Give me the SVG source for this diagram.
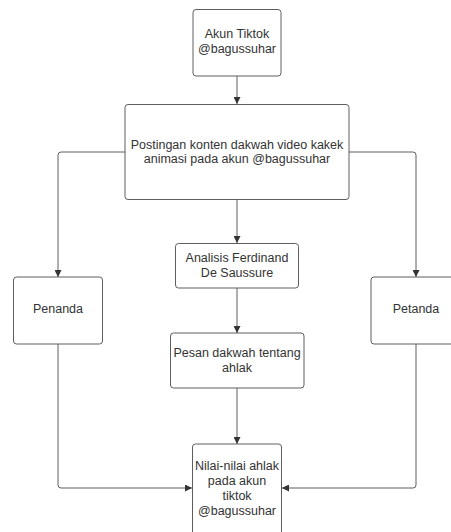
<svg xmlns="http://www.w3.org/2000/svg" width="451" height="532" viewBox="0 0 451 532">
<defs>
<style>
.box{fill:#ffffff;stroke:#5e5e5e;stroke-width:1}
.t{font-family:"Liberation Sans",Arial,sans-serif;font-size:12.5px;fill:#333333;text-anchor:middle}
.c{fill:none;stroke:#5e5e5e;stroke-width:1}
</style>
<marker id="ah" viewBox="0 0 10 10" refX="10" refY="5" markerWidth="7" markerHeight="7" markerUnits="userSpaceOnUse" orient="auto">
<path d="M0,0 L10,5 L0,10 z" fill="#333333"/>
</marker>
</defs>
<rect width="451" height="532" fill="#ffffff"/>
<g id="connectors">
<path class="c" d="M237,76 V104" marker-end="url(#ah)"/>
<path class="c" d="M125,152 H61 Q58,152 58,155 V277" marker-end="url(#ah)"/>
<path class="c" d="M349,152 H413 Q416,152 416,155 V277" marker-end="url(#ah)"/>
<path class="c" d="M237,199 V243" marker-end="url(#ah)"/>
<path class="c" d="M237,288 V333" marker-end="url(#ah)"/>
<path class="c" d="M237,388 V444" marker-end="url(#ah)"/>
<path class="c" d="M58,344 V485 Q58,488 61,488 H192" marker-end="url(#ah)"/>
<path class="c" d="M416,344 V485 Q416,488 413,488 H282" marker-end="url(#ah)"/>
</g>
<g id="akun">
<rect class="box" x="193" y="9.5" width="88" height="66.5" rx="3"/>
<text class="t" x="237" y="38">Akun Tiktok</text>
<text class="t" x="237" y="53">@bagussuhar</text>
</g>
<g id="postingan">
<rect class="box" x="125" y="104.5" width="224" height="95" rx="3"/>
<text class="t" x="237" y="148.5">Postingan konten dakwah video kakek</text>
<text class="t" x="237" y="163">animasi pada akun @bagussuhar</text>
</g>
<g id="penanda">
<rect class="box" x="13.5" y="277" width="89" height="67" rx="3"/>
<text class="t" x="58" y="312.5">Penanda</text>
</g>
<g id="petanda">
<rect class="box" x="371" y="277" width="90" height="67" rx="3"/>
<text class="t" x="416" y="312.5">Petanda</text>
</g>
<g id="analisis">
<rect class="box" x="175.5" y="243.5" width="123" height="44.5" rx="3"/>
<text class="t" x="237" y="261.5">Analisis Ferdinand</text>
<text class="t" x="237" y="276.5">De Saussure</text>
</g>
<g id="pesan">
<rect class="box" x="170.5" y="333" width="133.5" height="55" rx="3"/>
<text class="t" x="237" y="356.5">Pesan dakwah tentang</text>
<text class="t" x="237" y="371.5">ahlak</text>
</g>
<g id="nilai">
<rect class="box" x="192.5" y="444" width="89" height="95" rx="3"/>
<text class="t" x="237" y="470">Nilai-nilai ahlak</text>
<text class="t" x="237" y="485">pada akun</text>
<text class="t" x="237" y="500">tiktok</text>
<text class="t" x="237" y="515">@bagussuhar</text>
</g>
</svg>
